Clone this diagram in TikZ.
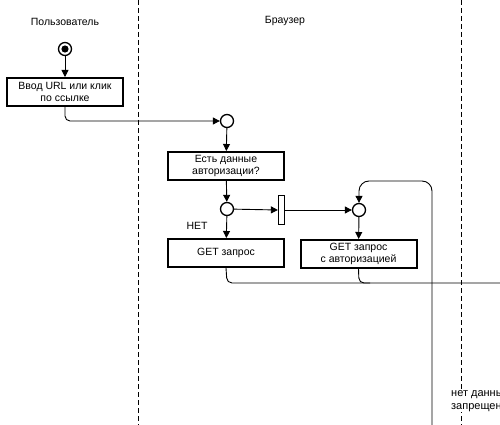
\documentclass[tikz,border=0pt]{standalone}
\usepackage{fontspec}
\setmainfont{Liberation Sans}
\usetikzlibrary{arrows.meta}
\begin{document}
\begin{tikzpicture}[x=1pt,y=-1pt,
  every node/.style={font=\fontsize{10.5}{12}\selectfont, inner sep=0pt},
  actbox/.style={draw, line width=2pt, minimum width=116pt, minimum height=28pt, align=center},
  junc/.style={circle, draw, line width=1.3pt, minimum size=13pt},
  bar/.style={draw, line width=1.3pt, minimum width=6pt, minimum height=29pt},
  conn/.style={line width=0.9pt, -{Triangle[length=7pt,width=7pt]}},
  plain/.style={line width=0.9pt, rounded corners=5pt},
  lane/.style={line width=0.9pt, dash pattern=on 5pt off 3pt},
  lbl/.style={fill=white, inner sep=1pt}]
\useasboundingbox (0,0) rectangle (500,425);
\fill[white] (0,0) rectangle (500,425);
% swimlanes
\draw[lane] (138,0) -- (138,425);
\draw[lane] (461,0) -- (461,425);
\node[lbl] (luser) at (65,22) {Пользователь};
\node[lbl] (lbrowser) at (285,21) {Браузер};
% start
\node[circle, draw, line width=1.3pt, minimum size=13pt] (start) at (65,49) {};
\fill (start.center) circle (3.6pt);
\node[actbox] (input) at (65,92) {Ввод URL или клик\\по ссылке};
\node[junc] (j1) at (227,121) {};
\node[actbox] (auth) at (226,166) {Есть данные\\авторизации?};
\node[junc] (j2) at (227,209) {};
\node[bar] (fork) at (281.5,210) {};
\node[junc] (j3) at (359,210) {};
\node[actbox] (get) at (226,253) {GET запрос};
\node[actbox] (getauth) at (358.5,254) {GET запрос\\с авторизацией};
\node (no) at (197,226) {НЕТ};
\node[lbl, anchor=west, align=left, font=\fontsize{11}{12.5}\selectfont] (nodata) at (450,401) {нет данны\\запрещен};
\coordinate (edge) at (500,283);
\coordinate (bottom) at (432,425);
% connectors
\draw[conn] (start) -- (input);
\draw[conn, rounded corners=5pt] (input.south) -- (65,121) -- (j1.west);
\draw[conn] (j1) -- (auth);
\draw[conn] (auth) -- (j2);
\draw[conn] (j2) -- (get);
\draw[conn] (j2) -- (fork.west);
\draw[conn] (fork.east) -- (j3.west);
\draw[conn] (j3) -- (getauth);
\draw[plain] (get.south) -- (227,283) -- (edge);
\draw[plain] (getauth.south) -- (359,283) -- (370,283);
\draw[conn, rounded corners=10pt] (bottom) -- (432,181) -- (359,181) -- (j3.north);
\end{tikzpicture}
\end{document}
